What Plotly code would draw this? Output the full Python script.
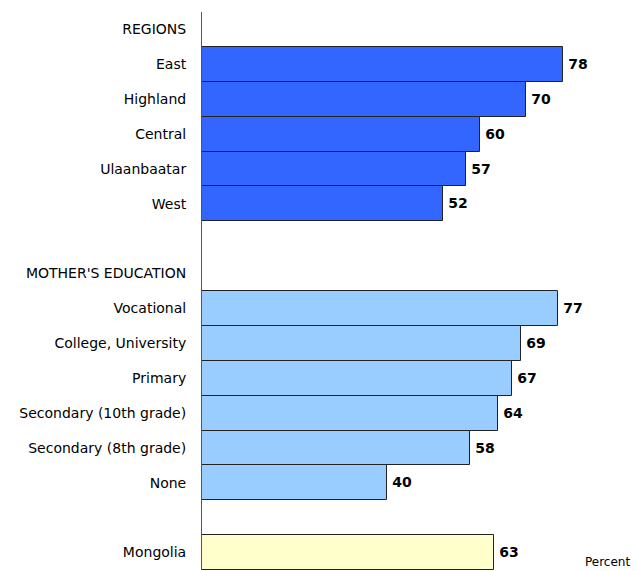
import plotly.graph_objects as go

categories = ["REGIONS", "East", "Highland", "Central", "Ulaanbaatar", "West", " ",
              "MOTHER'S EDUCATION", "Vocational", "College, University", "Primary",
              "Secondary (10th grade)", "Secondary (8th grade)", "None", "  ", "Mongolia"]
values = [None, 78, 70, 60, 57, 52, None,
          None, 77, 69, 67, 64, 58, 40, None, 63]
group = ["h", "r", "r", "r", "r", "r", "s",
         "h", "e", "e", "e", "e", "e", "e", "s", "m"]
group_colors = {"r": "#3366FF", "e": "#99CCFF", "m": "#FFFFCC", "h": "#FFFFFF", "s": "#FFFFFF"}

colors = [group_colors[g] for g in group]
texts = ["" if v is None else f"\u2009<b>{v}</b>" for v in values]

fig = go.Figure(go.Bar(
    y=categories, x=[0 if v is None else v for v in values], orientation="h",
    marker=dict(color=colors, line=dict(color="#222222", width=[0 if v is None else 1 for v in values])),
    text=texts, textposition="outside", cliponaxis=False,
    textfont=dict(family="DejaVu Sans", size=14, color="black"),
    hoverinfo="skip",
))

fig.update_layout(
    width=644, height=571,
    margin=dict(l=194, r=20, t=4, b=9, autoexpand=False),
    plot_bgcolor="white", paper_bgcolor="white",
    bargap=0, showlegend=False,
    font=dict(family="DejaVu Sans", size=14, color="black"),
    xaxis=dict(range=[0, 92.9], visible=False, showgrid=False, zeroline=False),
    yaxis=dict(type="category", categoryorder="array", categoryarray=categories,
               autorange="reversed", showgrid=False, zeroline=False, automargin=False,
               showline=True, linecolor="#555555", linewidth=1,
               ticks="", ticklabelstandoff=12,
               tickfont=dict(family="DejaVu Sans", size=14, color="black")),
    annotations=[dict(text="Percent", xref="paper", yref="paper", x=1.0, y=0.03,
                      xanchor="right", yanchor="top", showarrow=False,
                      font=dict(family="DejaVu Sans", size=12, color="black"))],
)

fig.write_html("out.html")
